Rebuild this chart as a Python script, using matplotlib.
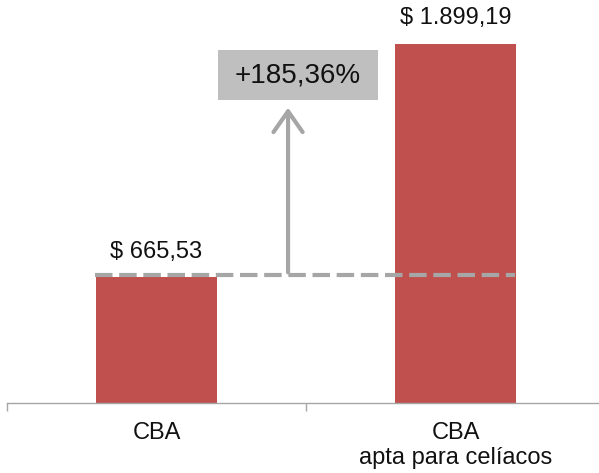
import numpy as np
import matplotlib
matplotlib.use("Agg")
from matplotlib import pyplot as plt
from matplotlib.patches import FancyArrowPatch, Rectangle

plt.rcParams['font.family'] = ['Liberation Sans', 'DejaVu Sans']

# datos
categorias = ["CBA", "CBA\napta para celíacos"]
valores = [665.53, 1899.19]
etiquetas = ["$ 665,53", "$ 1.899,19"]
variacion = "+185,36%"

rojo = "#C0504D"
gris = "#A6A6A6"

fig = plt.figure(figsize=(5.99, 4.73), dpi=100)
ax = fig.add_axes([7/599, 70/473, 598/599, 403/473])

x = np.arange(len(valores))
ax.bar(x, valores, width=0.402, color=rojo, zorder=2)

for xi, v, t in zip(x, valores, etiquetas):
    ax.text(xi, v + 75, t, ha='center', va='bottom', fontsize=17, color='#111111')

# linea punteada al nivel de la primera barra
ax.plot([x[0] - 0.205, x[1] + 0.2], [valores[0] + 10, valores[0] + 10],
        color=gris, lw=3.0, linestyle=(0, (4.2, 1.6)), zorder=3)

# flecha y caja de variacion
arrow = FancyArrowPatch((0.44, valores[0] + 10), (0.44, 1575),
                        arrowstyle='->,head_length=15,head_width=10.5',
                        mutation_scale=1, color=gris, lw=3.0,
                        capstyle='round', joinstyle='round', zorder=3)
ax.add_patch(arrow)
ax.add_patch(Rectangle((0.205, 1600), 0.536, 265, facecolor='#BFBFBF',
                       edgecolor='none', zorder=3))
ax.text(0.473, 1730, variacion, ha='center', va='center', fontsize=20,
        color='#111111', zorder=4)

ax.set_xlim(-0.5, 1.5)
ax.set_ylim(0, 2129)
for s in ['top', 'right', 'left']:
    ax.spines[s].set_visible(False)
ax.spines['bottom'].set_color('#A6A6A6')
ax.spines['bottom'].set_linewidth(1)
ax.set_yticks([])
ax.set_xticks([-0.5, 0.5, 1.5])
ax.set_xticklabels([])
ax.tick_params(axis='x', which='major', length=6, color='#A6A6A6', width=1)
ax.set_xticks(x, minor=True)
ax.set_xticklabels(categorias, minor=True, fontsize=17, color='#111111',
                   linespacing=1.15)
ax.tick_params(axis='x', which='minor', length=0, pad=14)

fig.savefig("out.png", dpi=100)
